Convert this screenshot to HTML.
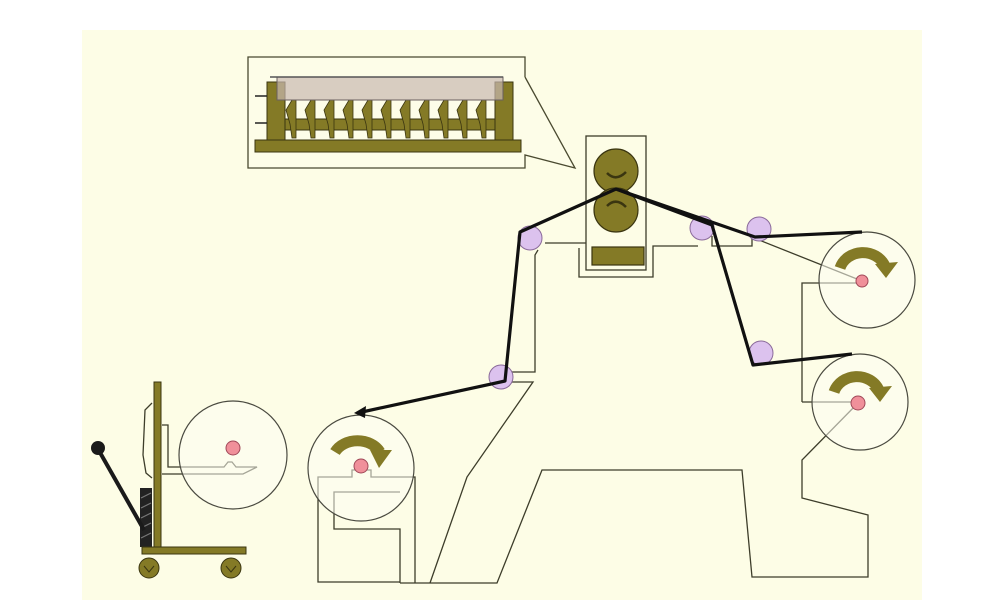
<!DOCTYPE html>
<html><head><meta charset="utf-8"><style>
html,body{margin:0;padding:0;background:#fff;width:1000px;height:600px;overflow:hidden}
svg{display:block}
</style></head><body>
<svg width="1000" height="600" viewBox="0 0 1000 600" xmlns="http://www.w3.org/2000/svg">
<rect x="82" y="30" width="840" height="570" fill="#fdfde6"/>
<g fill="none" stroke="#4a4a30" stroke-width="1.3">
<!-- callout -->
<polyline points="525,77 525,57 248,57 248,168 525,168 525,155 575,168 525,77" fill="#fdfde8"/>
</g>
<g fill="#847a26" stroke="#3a3510" stroke-width="1">
<rect x="255" y="140" width="266" height="12"/>
<rect x="267" y="82" width="18" height="58"/>
<rect x="495" y="82" width="18" height="58"/>
<rect x="285" y="119" width="210" height="11"/>
</g>
<g stroke="#222" stroke-width="1.5"><line x1="255" y1="96" x2="267" y2="96"/><line x1="255" y1="123" x2="267" y2="123"/></g>
<g fill="#847a26" stroke="#3a3510" stroke-width="0.8">
<polygon points="292,100 296,100 296,138 292,138 290,124 286,110"/>
<polygon points="311,100 315,100 315,138 311,138 309,124 305,110"/>
<polygon points="330,100 334,100 334,138 330,138 328,124 324,110"/>
<polygon points="349,100 353,100 353,138 349,138 347,124 343,110"/>
<polygon points="368,100 372,100 372,138 368,138 366,124 362,110"/>
<polygon points="387,100 391,100 391,138 387,138 385,124 381,110"/>
<polygon points="406,100 410,100 410,138 406,138 404,124 400,110"/>
<polygon points="425,100 429,100 429,138 425,138 423,124 419,110"/>
<polygon points="444,100 448,100 448,138 444,138 442,124 438,110"/>
<polygon points="463,100 467,100 467,138 463,138 461,124 457,110"/>
<polygon points="482,100 486,100 486,138 482,138 480,124 476,110"/>
</g>
<rect x="277" y="77" width="226" height="23" fill="#c8b8b0" fill-opacity="0.7" stroke="#6a6060" stroke-width="1"/>
<line x1="270" y1="77" x2="503" y2="77" stroke="#555" stroke-width="1.5"/>

<!-- machine frame thin lines -->
<g fill="none" stroke="#3d3d2a" stroke-width="1.3">
<rect x="586" y="136" width="60" height="134"/>
<polyline points="579,248 579,277 653,277 653,246 698,246"/>
<line x1="545" y1="243" x2="586" y2="243"/>
<polyline points="400,583 497,583 542,470 742,470 752,577 868,577 868,515 802,498 802,460 858,403"/>
<polyline points="802,402 858,402"/>
<polyline points="862,283 802,283 802,402"/>
<polyline points="430,583 467,477 533,382 510,382"/>
<polyline points="510,372 535,372 535,255 538,250"/>
<polyline points="712,236 712,246 752,246 752,237"/>
<line x1="759" y1="240" x2="862" y2="281"/>
<!-- unwind stand -->
<polyline points="415,583 415,477 371,477 371,470 352,470 352,477 318,477 318,582 400,582"/>
<polyline points="400,583 400,529 334,529 334,492 400,492"/>
<!-- cart fork -->
<polyline points="162,425 168,425 168,467 224,467 228,462 232,462 236,467 257,467 243,474 162,474"/>
<polyline points="152,403 145,410 143,455 146,473 152,478"/>
</g>

<!-- big circles -->
<g fill="#fdfdf3" fill-opacity="0.55" stroke="#4a4a40" stroke-width="1.2">
<circle cx="867" cy="280" r="48"/>
<circle cx="860" cy="402" r="48"/>
<circle cx="361" cy="468" r="53"/>
<circle cx="233" cy="455" r="54"/>
</g>

<!-- nip rolls -->
<g fill="#847a26" stroke="#3a3510" stroke-width="1.2">
<circle cx="616" cy="171" r="22"/>
<circle cx="616" cy="210" r="22"/>
<rect x="592" y="247" width="52" height="18"/>
</g>
<g fill="none" stroke="#3a3510" stroke-width="2.5">
<path d="M607,173 Q616,182 626,172"/>
<path d="M607,206 Q616,197 626,207"/>
</g>

<!-- curved arrows -->
<g fill="none" stroke="#847a26" stroke-width="11">
<path d="M840,268 A24,22 0 0 1 885,266"/>
<path d="M834,392 A24,22 0 0 1 879,390"/>
<path d="M335,452 A25,20 0 0 1 380,452"/>
</g>
<g fill="#847a26">
<polygon points="875,264 898,262 886,278"/>
<polygon points="869,388 892,386 880,402"/>
<polygon points="370,450 392,450 379,468"/>
</g>

<!-- hubs -->
<g fill="#f0909a" stroke="#a04858" stroke-width="1">
<circle cx="862" cy="281" r="6"/>
<circle cx="858" cy="403" r="7"/>
<circle cx="361" cy="466" r="7"/>
<circle cx="233" cy="448" r="7"/>
</g>

<!-- guide rollers -->
<g fill="#dcc2ee" stroke="#8a6a9a" stroke-width="1">
<circle cx="530" cy="238" r="12"/>
<circle cx="501" cy="377" r="12"/>
<circle cx="702" cy="228" r="12"/>
<circle cx="759" cy="229" r="12"/>
<circle cx="761" cy="353" r="12"/>
</g>

<!-- web path -->
<g fill="none" stroke="#111" stroke-width="3.2" stroke-linejoin="round">
<polyline points="362,412 505,381 520,232 616,189 712,225 753,365 852,354"/>
<polyline points="616,189 755,237 862,232"/>
</g>
<polygon points="354,413 366,406 365,418" fill="#111"/>

<!-- cart -->
<rect x="140" y="488" width="12" height="59" fill="#222"/>
<g stroke="#777" stroke-width="1.2"><line x1="141" y1="498" x2="151" y2="493"/><line x1="141" y1="508" x2="151" y2="503"/><line x1="141" y1="518" x2="151" y2="513"/><line x1="141" y1="528" x2="151" y2="523"/><line x1="141" y1="538" x2="151" y2="533"/></g>
<line x1="98" y1="449" x2="144" y2="530" stroke="#1a1a1a" stroke-width="4"/>
<circle cx="98" cy="448" r="7" fill="#1a1a1a"/>
<g fill="#847a26" stroke="#3a3510" stroke-width="1">
<rect x="154" y="382" width="7" height="165"/>
<rect x="142" y="547" width="104" height="7"/>
<circle cx="149" cy="568" r="10"/>
<circle cx="231" cy="568" r="10"/>
</g>
<g fill="none" stroke="#3a3510" stroke-width="1"><path d="M144,566 L149,572 L154,566"/><path d="M226,566 L231,572 L236,566"/></g>
</svg>
</body></html>
